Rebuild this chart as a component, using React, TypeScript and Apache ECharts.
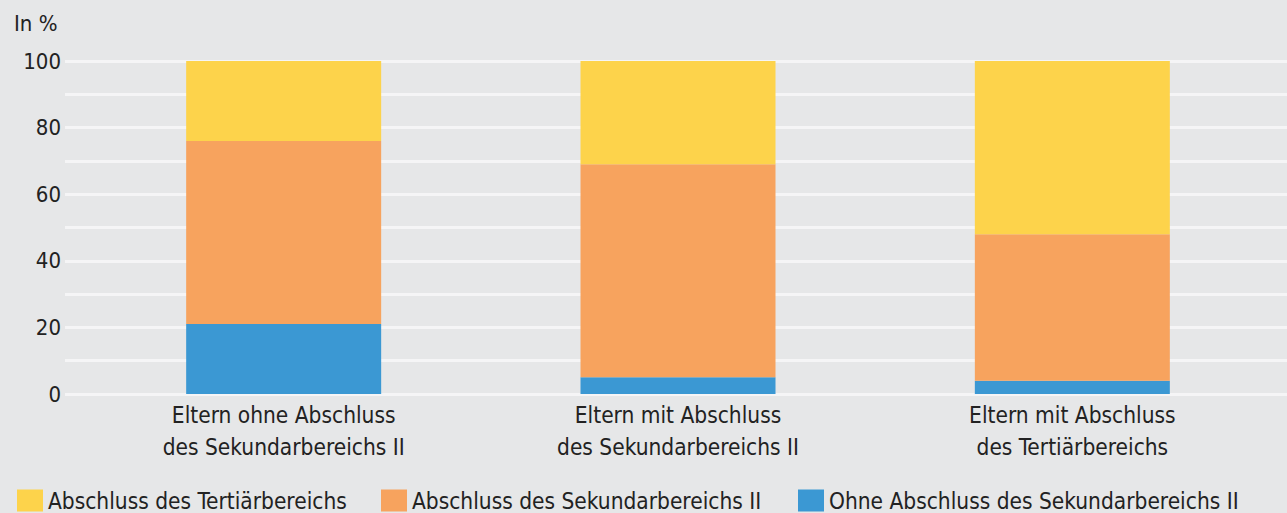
import React, { useEffect, useRef } from "react";
import * as echarts from "echarts";

const categories = [
  "Eltern ohne Abschluss\ndes Sekundarbereichs II",
  "Eltern mit Abschluss\ndes Sekundarbereichs II",
  "Eltern mit Abschluss\ndes Tertiärbereichs",
];
const seriesNames = [
  "Ohne Abschluss des Sekundarbereichs II",
  "Abschluss des Sekundarbereichs II",
  "Abschluss des Tertiärbereichs",
];
const ohneSek = [21, 5, 4];
const sek = [55, 64, 44];
const tert = [24, 31, 52];
const colors = ["#3b98d3", "#f7a35e", "#fdd34b"];
const yUnit = "In %";

const FONT = "'Liberation Sans Narrow', 'DejaVu Sans Condensed', 'Open Sans', sans-serif";

export default function App() {
  const ref = useRef<HTMLDivElement>(null);
  useEffect(() => {
    document.body.style.margin = "0";
    if (!ref.current) return;
    const chart = echarts.init(ref.current, null, { renderer: "svg" });
    const values = [ohneSek, sek, tert];
    const legendLefts = [798, 381, 17];
    chart.setOption({
      animation: false,
      backgroundColor: "#e6e7e8",
      textStyle: { fontFamily: FONT, color: "#222" },
      grid: [
        { left: 65, right: 0, top: 61, bottom: 119 },
        { left: 86.5, right: 17.5, top: 61, bottom: 119 },
      ],
      xAxis: [
        { type: "category", gridIndex: 0, show: false, data: categories },
        {
          type: "category",
          gridIndex: 1,
          data: categories,
          axisLine: { show: false },
          axisTick: { show: false },
          axisLabel: {
            fontFamily: FONT,
            fontSize: 22.5,
            lineHeight: 32,
            color: "#222",
            margin: 5,
          },
        },
      ],
      yAxis: [
        {
          type: "value",
          gridIndex: 0,
          min: 0,
          max: 100,
          interval: 10,
          axisLine: { show: false },
          axisTick: { show: false },
          axisLabel: {
            fontFamily: FONT,
            fontSize: 22,
            color: "#222",
            margin: 4,
            formatter: (v: number) => (v % 20 === 0 ? String(v) : ""),
          },
          splitLine: { lineStyle: { color: "#f5f5f6", width: 3 } },
        },
        {
          type: "value",
          gridIndex: 1,
          min: 0,
          max: 100,
          show: false,
          splitLine: { show: false },
        },
      ],
      legend: seriesNames.map((n, i) => ({
        data: [n],
        left: legendLefts[i],
        top: 489,
        itemWidth: 26,
        itemHeight: 22,
        itemGap: 0,
        icon: "rect",
        textStyle: {
          fontFamily: FONT,
          fontSize: 22.5,
          lineHeight: 22,
          color: "#222",
          padding: [0, 0, 0, 0],
        },
        padding: 0,
        itemStyle: { borderWidth: 0 },
      })),
      graphic: [
        {
          type: "text",
          left: 14,
          top: 12,
          style: { text: yUnit, fontFamily: FONT, fontSize: 22, fill: "#222" },
        },
      ],
      series: seriesNames.map((n, i) => ({
        name: n,
        type: "bar",
        stack: "total",
        xAxisIndex: 1,
        yAxisIndex: 1,
        barWidth: 195,
        data: values[i],
        itemStyle: { color: colors[i] },
      })),
    });
    return () => chart.dispose();
  }, []);
  return <div ref={ref} style={{ width: 1287, height: 513 }} />;
}
